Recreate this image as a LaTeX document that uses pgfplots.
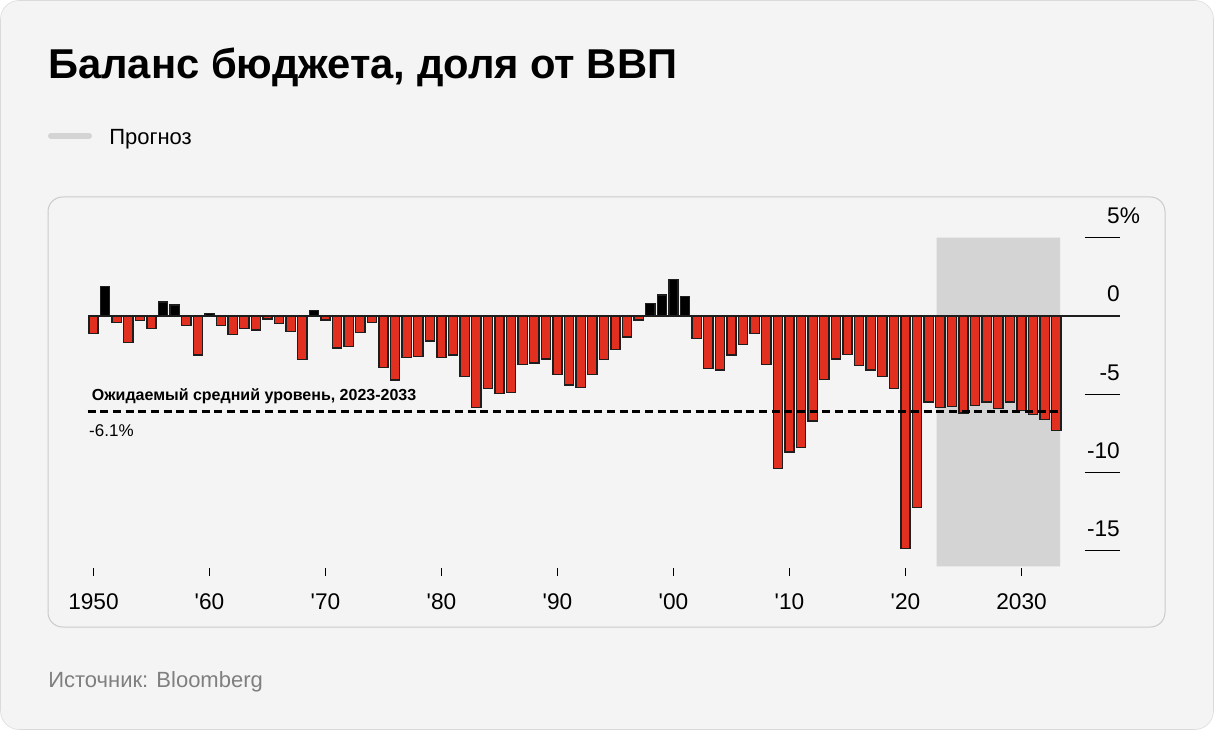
\documentclass[border=0pt]{standalone}
\usepackage{fontspec}
\setmainfont{Liberation Sans}
\usepackage{pgfplots}
\pgfplotsset{compat=1.18}
\definecolor{bg}{HTML}{F4F4F4}
\definecolor{outerline}{HTML}{DADADA}
\definecolor{panelline}{HTML}{CACACA}
\definecolor{barred}{HTML}{E1301F}
\definecolor{barline}{HTML}{1E1E1E}
\definecolor{fcast}{HTML}{D4D4D4}
\definecolor{srcgray}{HTML}{7F7F7F}

\begin{document}
\begin{tikzpicture}[x=0.75pt,y=-0.75pt]
  % page and panel
  \fill[white] (0,0) rectangle (1214,730);
  \draw[outerline, fill=bg, rounded corners=14pt] (0.5,0.5) rectangle (1213.5,729.5);
  \draw[panelline, line width=0.75pt, fill=bg, rounded corners=11pt] (48,197) rectangle (1165,627);

  % title, legend, source
  \node[anchor=base west, inner sep=0, font=\fontsize{31.3pt}{37pt}\selectfont\bfseries]
    at (48,79) {Баланс бюджета, доля от ВВП};
  \draw[fcast, line width=4.5pt, line cap=round] (51,135.7) -- (89,135.7);
  \node[anchor=base west, inner sep=0, font=\fontsize{16.5pt}{20pt}\selectfont]
    at (109,145) {Прогноз};
  \node[anchor=base west, inner sep=0, text=srcgray, font=\fontsize{16.5pt}{20pt}\selectfont]
    at (48,687) {Источник: Bloomberg};

  \begin{axis}[
    scale only axis,
    width=787.35pt, height=259.4pt,
    at={(52.725pt,-166.575pt)}, anchor=north west,
    xmin=1948, xmax=2038.5, ymin=-16.1, ymax=6,
    axis line style={draw=none},
    clip=false,
    xtick={1950,1960,...,2030},
    xticklabels={1950,\textquotesingle 60,\textquotesingle 70,\textquotesingle 80,\textquotesingle 90,\textquotesingle 00,\textquotesingle 10,\textquotesingle 20,2030},
    xtick pos=bottom,
    tick align=outside,
    major tick length=6pt,
    xtick style={black, line width=0.75pt},
    ytick={5,0,-5,-10,-15},
    yticklabels={5\rlap{\%},0,-5,-10,-15},
    yticklabel pos=right,
    ytick style={draw=none},
    ticklabel style={font=\fontsize{17pt}{20pt}\selectfont},
    yticklabel style={anchor=base east, inner sep=0pt, xshift=-6pt, yshift=10.5pt},
    xticklabel style={inner sep=0pt, yshift=-13pt},
  ]
    % forecast shading
    \addplot[fill=fcast, draw=none]
      coordinates {(2022.69,5) (2033.32,5) (2033.32,-16) (2022.69,-16) (2022.69,5)};

    % zero line and right-hand tick lines
    \addplot[barline, line width=0.9pt] coordinates {(1949.53,0) (2038.49,0)};
    \addplot[black, line width=0.9pt] coordinates {(2035.47,5) (2038.49,5)};
    \addplot[black, line width=0.9pt] coordinates {(2035.47,-5) (2038.49,-5)};
    \addplot[black, line width=0.9pt] coordinates {(2035.47,-10) (2038.49,-10)};
    \addplot[black, line width=0.9pt] coordinates {(2035.47,-15) (2038.49,-15)};

    % deficits
    \addplot[ybar, bar width=0.8, bar shift=0pt, fill=barred, draw=barline, line width=1pt]
      coordinates {
        (1950,-1.1) (1952,-0.4) (1953,-1.7) (1954,-0.3) (1955,-0.8)
        (1958,-0.6) (1959,-2.5) (1961,-0.6) (1962,-1.2) (1963,-0.8)
        (1964,-0.9) (1965,-0.2) (1966,-0.5) (1967,-1.0) (1968,-2.8)
        (1970,-0.25) (1971,-2.05) (1972,-1.95) (1973,-1.05) (1974,-0.4)
        (1975,-3.3) (1976,-4.1) (1977,-2.65) (1978,-2.6) (1979,-1.6)
        (1980,-2.65) (1981,-2.5) (1982,-3.85) (1983,-5.85) (1984,-4.65)
        (1985,-4.95) (1986,-4.9) (1987,-3.1) (1988,-3.0) (1989,-2.75)
        (1990,-3.75) (1991,-4.4) (1992,-4.55) (1993,-3.75) (1994,-2.8)
        (1995,-2.15) (1996,-1.35) (1997,-0.25)
        (2002,-1.45) (2003,-3.35) (2004,-3.45) (2005,-2.5) (2006,-1.8)
        (2007,-1.1) (2008,-3.1) (2009,-9.75) (2010,-8.7) (2011,-8.4)
        (2012,-6.7) (2013,-4.05) (2014,-2.75) (2015,-2.45) (2016,-3.15)
        (2017,-3.45) (2018,-3.85) (2019,-4.65) (2020,-14.85) (2021,-12.25)
        (2022,-5.5) (2023,-5.85) (2024,-5.8) (2025,-6.2) (2026,-5.7)
        (2027,-5.5) (2028,-5.9) (2029,-5.5) (2030,-6.05) (2031,-6.3)
        (2032,-6.6) (2033,-7.3)
      };
    % surpluses
    \addplot[ybar, bar width=0.8, bar shift=0pt, fill=black, draw=barline, line width=1pt]
      coordinates {
        (1951,1.9) (1956,0.9) (1957,0.7) (1960,0.15) (1969,0.35)
        (1998,0.8) (1999,1.35) (2000,2.35) (2001,1.25)
      };

    % expected average 2023-2033
    \addplot[black, line width=1.7pt, dash pattern=on 6pt off 3.5pt]
      coordinates {(1949.5,-6.1) (2033.3,-6.1)};

    \node[anchor=base west, inner sep=0, font=\fontsize{12pt}{14pt}\selectfont\bfseries]
      at (axis cs:1949.84,-5.41) {Ожидаемый средний уровень, 2023-2033};
    \node[anchor=base west, inner sep=0, font=\fontsize{12.75pt}{15pt}\selectfont]
      at (axis cs:1949.61,-7.71) {-6.1\%};
  \end{axis}
\end{tikzpicture}
\end{document}
